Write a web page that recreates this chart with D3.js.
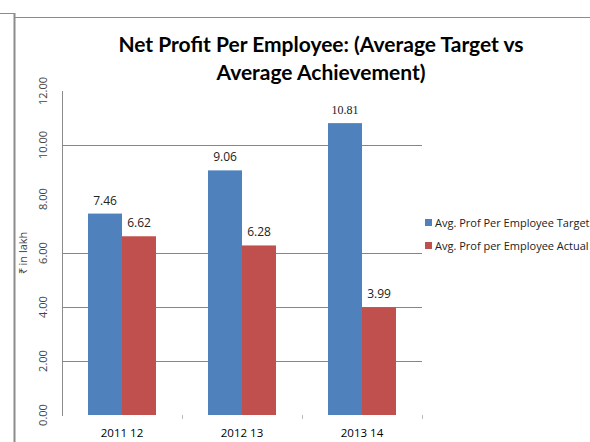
<!DOCTYPE html>
<html>
<head>
<meta charset="utf-8">
<script src="https://cdn.jsdelivr.net/npm/d3@7"></script>
<style>
  body { margin: 0; background: #fff; }
  svg { display: block; }
</style>
</head>
<body>
<div id="chart"></div>
<script>
// Chart data
const categories = ['2011 12', '2012 13', '2013 14'];
const seriesNames = ['Avg. Prof Per Employee Target', 'Avg. Prof per Employee Actual'];
const targetValues = [7.46, 9.06, 10.81];
const actualValues = [6.62, 6.28, 3.99];
const yTicks = [0, 2, 4, 6, 8, 10, 12];
const gridValues = [2, 4, 6, 10];

const colors = ['#4F81BD', '#C0504D'];
const width = 590, height = 442;

const svg = d3.select('#chart').append('svg')
    .attr('width', width)
    .attr('height', height);

// Outer frame
svg.append('line').attr('x1', 0).attr('x2', 14).attr('y1', 13.5).attr('y2', 13.5).attr('stroke', '#8c8c8c');
svg.append('line').attr('x1', 14.5).attr('x2', 14.5).attr('y1', 13).attr('y2', height).attr('stroke', '#8c8c8c').attr('stroke-width', 2);
svg.append('line').attr('x1', 14).attr('x2', width).attr('y1', 17.5).attr('y2', 17.5).attr('stroke', '#8c8c8c');

// Title
const title = svg.append('text')
    .attr('text-anchor', 'middle')
    .attr('font-family', 'Lato, "Open Sans", sans-serif')
    .attr('font-weight', 'bold')
    .attr('font-size', 21)
    .attr('fill', '#000');
title.append('tspan').attr('x', 321).attr('y', 52).text('Net Profit Per Employee: (Average Target vs');
title.append('tspan').attr('x', 321).attr('y', 80).text('Average Achievement)');

// Scales
const x = d3.scaleBand().domain(categories).range([62, 422]);
const y = d3.scaleLinear().domain([0, 12]).range([415, 91]);
const barW = 34;

// Gridlines
svg.append('g').selectAll('line')
    .data(gridValues)
    .join('line')
    .attr('x1', 62).attr('x2', 422)
    .attr('y1', d => Math.round(y(d)) + 0.5)
    .attr('y2', d => Math.round(y(d)) + 0.5)
    .attr('stroke', '#868686');

// Y axis line
svg.append('line')
    .attr('x1', 62.5).attr('x2', 62.5)
    .attr('y1', 91).attr('y2', 416)
    .attr('stroke', '#8c8c8c');

// Y tick labels (rotated)
svg.append('g').selectAll('text')
    .data(yTicks)
    .join('text')
    .attr('transform', d => 'translate(47,' + y(d) + ') rotate(-90)')
    .attr('text-anchor', 'middle')
    .attr('font-family', '"Open Sans", sans-serif')
    .attr('font-size', 11)
    .attr('fill', '#444')
    .text(d => d.toFixed(2));

// Y axis title
svg.append('text')
    .attr('transform', 'translate(27,253) rotate(-90)')
    .attr('text-anchor', 'middle')
    .attr('font-family', '"Open Sans", sans-serif')
    .attr('font-size', 11)
    .attr('fill', '#444')
    .text('₹ in lakh');

// X ticks
svg.append('g').selectAll('line')
    .data(categories.map(c => x(c) + x.bandwidth()))
    .join('line')
    .attr('x1', d => d + 0.5).attr('x2', d => d + 0.5)
    .attr('y1', 415).attr('y2', 419)
    .attr('stroke', '#bbb');

// Category labels
svg.append('g').selectAll('text')
    .data(categories)
    .join('text')
    .attr('x', d => x(d) + x.bandwidth() / 2)
    .attr('y', 437)
    .attr('text-anchor', 'middle')
    .attr('font-family', '"Open Sans", sans-serif')
    .attr('font-size', 11.5)
    .attr('fill', '#000')
    .text(d => d);

// Bars
const series = [targetValues, actualValues];
series.forEach((vals, si) => {
    const g = svg.append('g');
    g.selectAll('rect')
        .data(vals)
        .join('rect')
        .attr('x', (d, i) => x(categories[i]) + x.bandwidth() / 2 - barW + si * barW)
        .attr('y', d => y(d))
        .attr('width', barW)
        .attr('height', d => y(0) - y(d))
        .attr('fill', colors[si]);

    g.selectAll('text')
        .data(vals)
        .join('text')
        .attr('x', (d, i) => x(categories[i]) + x.bandwidth() / 2 - barW / 2 + si * barW)
        .attr('y', d => y(d) - 9)
        .attr('text-anchor', 'middle')
        .attr('font-family', d => d === 10.81 ? '"Liberation Serif", serif' : '"Open Sans", sans-serif')
        .attr('font-size', 12)
        .attr('fill', '#222')
        .text(d => d.toFixed(2));
});

// Legend
const legend = svg.append('g').selectAll('g')
    .data(seriesNames)
    .join('g')
    .attr('transform', (d, i) => 'translate(425,' + (219 + i * 23) + ')');
legend.append('rect')
    .attr('width', 7).attr('height', 7)
    .attr('fill', (d, i) => colors[i]);
legend.append('text')
    .attr('x', 10).attr('y', 7.5)
    .attr('font-family', '"Open Sans", sans-serif')
    .attr('font-size', 11)
    .attr('fill', '#222')
    .text(d => d);
</script>
</body>
</html>
